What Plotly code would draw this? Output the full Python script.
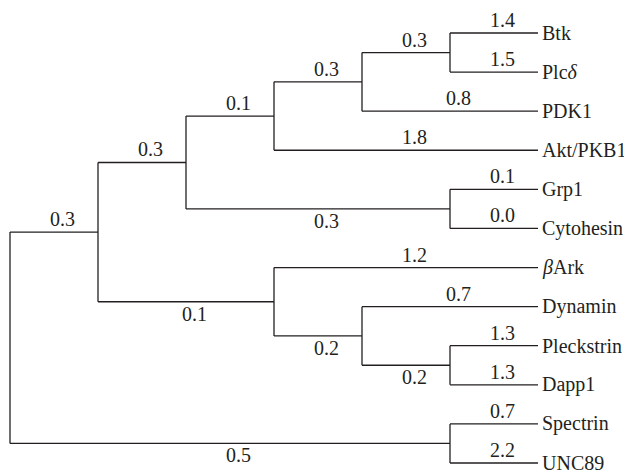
import plotly.graph_objects as go

# Tree structure: each child with its parent and branch length (label)
child_nodes = ["n1", "n10", "n2", "n7", "n3", "n6", "n4", "Akt/PKB1", "n5", "PDK1",
               "Btk", "Plcδ", "Grp1", "Cytohesin", "βArk", "n8", "Dynamin", "n9",
               "Pleckstrin", "Dapp1", "Spectrin", "UNC89"]
parent_nodes = ["root", "root", "n1", "n1", "n2", "n2", "n3", "n3", "n4", "n4",
                "n5", "n5", "n6", "n6", "n7", "n7", "n8", "n8",
                "n9", "n9", "n10", "n10"]
branch_lengths = [0.3, 0.5, 0.3, 0.1, 0.1, 0.3, 0.3, 1.8, 0.3, 0.8,
                  1.4, 1.5, 0.1, 0.0, 1.2, 0.2, 0.7, 0.2,
                  1.3, 1.3, 0.7, 2.2]

# build children lookup
children = {}
for c, p in zip(child_nodes, parent_nodes):
    children.setdefault(p, []).append(c)

leaf_order = []
def collect(n):
    if n in children:
        for c in children[n]:
            collect(c)
    else:
        leaf_order.append(n)
collect("root")

def depth_levels(n):
    if n not in children:
        return 0
    return 1 + max(depth_levels(c) for c in children[n])
max_level = depth_levels("root")

pos = {}
def layout(n):
    if n not in children:
        pos[n] = (max_level, leaf_order.index(n))
        return pos[n]
    cps = [layout(c) for c in children[n]]
    x = min(p[0] for p in cps) - 1
    y = sum(p[1] for p in cps) / len(cps)
    pos[n] = (x, y)
    return pos[n]
layout("root")

INK = "#231f20"
FONT = "'Liberation Serif', 'Times New Roman', 'DejaVu Serif', serif"

xs, ys = [], []
for p, kids in children.items():
    px, py = pos[p]
    ky = [pos[k][1] for k in kids]
    xs += [px, px, None]
    ys += [min(ky), max(ky), None]
    for k in kids:
        kx, kyy = pos[k]
        xs += [px, kx, None]
        ys += [kyy, kyy, None]

fig = go.Figure()
fig.add_trace(go.Scatter(x=xs, y=ys, mode="lines",
                         line=dict(color=INK, width=1.3),
                         hoverinfo="skip", showlegend=False))

annotations = []
for c, p, bl in zip(child_nodes, parent_nodes, branch_lengths):
    px, _ = pos[p]
    cx, cy = pos[c]
    internal = c in children
    below = internal and children[p].index(c) == 1
    annotations.append(dict(
        x=(px + cx) / 2, y=cy, text=f"{bl:.1f}", showarrow=False,
        xanchor="center", yanchor="middle", xshift=8,
        yshift=-12 if below else 13,
        font=dict(family=FONT, size=20, color=INK)))

for leaf in leaf_order:
    lx, ly = pos[leaf]
    text = leaf
    if leaf.startswith("β"):
        text = "<i>β</i>" + leaf[1:]
    elif leaf.endswith("δ"):
        text = leaf[:-1] + "<i>δ</i>"
    annotations.append(dict(
        x=lx, y=ly, text=text, showarrow=False,
        xanchor="left", yanchor="middle", xshift=2,
        font=dict(family=FONT, size=20, color=INK)))

# page body has an 8px default margin, so the figure sits at (8, 8)
W, H = 624, 465
px_per_x = 88.0
px_per_y = 39.09
x0 = -2 / px_per_x
y0 = -25 / px_per_y

fig.update_layout(
    width=W, height=H,
    margin=dict(l=0, r=0, t=0, b=0),
    paper_bgcolor="white", plot_bgcolor="white",
    font=dict(family=FONT, color=INK),
    xaxis=dict(range=[x0, x0 + W / px_per_x], visible=False, fixedrange=True),
    yaxis=dict(range=[y0 + H / px_per_y, y0], visible=False, fixedrange=True),
    annotations=annotations,
    showlegend=False,
)

fig.write_html("out.html")
